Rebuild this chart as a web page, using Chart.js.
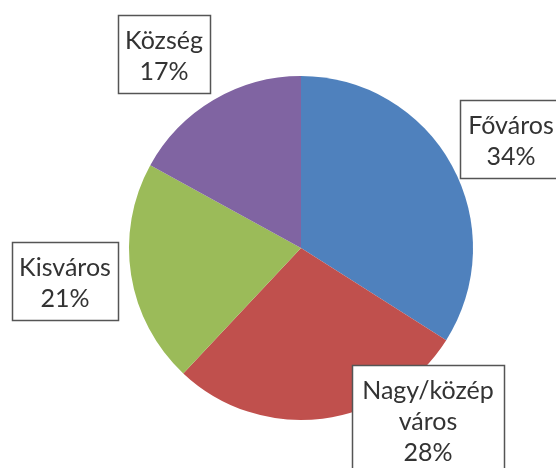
<!DOCTYPE html>
<html>
<head>
<meta charset="utf-8">
<script src="https://cdn.jsdelivr.net/npm/chart.js@4"></script>
<style>
html,body{margin:0;padding:0;background:#fff;}
#wrap{width:556px;height:468px;position:relative;}
</style>
</head>
<body>
<div id="wrap"><canvas id="c" width="556" height="468"></canvas></div>
<script>
const categories = ['Főváros', 'Nagy/közép város', 'Kisváros', 'Község'];
const labelLines = [['Főváros'], ['Nagy/közép', 'város'], ['Kisváros'], ['Község']];
const values = [34, 28, 21, 17];
const colors = ['#4F81BD', '#C0504D', '#9BBB59', '#8064A2'];

// label box centers (layout only)
const boxLayout = [
  {cx: 511, top: 100, w: 102},
  {cx: 428, top: 365, w: 152},
  {cx: 65, top: 242, w: 106},
  {cx: 164, top: 15, w: 92}
];

const labelBoxes = {
  id: 'labelBoxes',
  afterDatasetsDraw(chart) {
    const ctx = chart.ctx;
    const data = chart.data.datasets[0].data;
    const total = data.reduce((a, b) => a + b, 0);
    ctx.save();
    ctx.font = '25px Lato';
    ctx.textAlign = 'center';
    ctx.textBaseline = 'middle';
    const lh = 31;
    chart.getDatasetMeta(0).data.forEach((arc, i) => {
      const lines = labelLines[i].concat([Math.round(data[i] / total * 100) + '%']);
      const L = boxLayout[i];
      const h = lines.length * lh + 16;
      const x0 = Math.round(L.cx - L.w / 2) + 0.5;
      const y0 = L.top + 0.5;
      ctx.fillStyle = '#fff';
      ctx.fillRect(x0, y0, L.w, h);
      ctx.strokeStyle = '#555';
      ctx.lineWidth = 1.5;
      ctx.strokeRect(x0, y0, L.w, h);
      ctx.fillStyle = '#333';
      lines.forEach((t, k) => {
        ctx.fillText(t, L.cx, L.top + 26 + k * lh);
      });
    });
    ctx.restore();
  }
};

new Chart(document.getElementById('c'), {
  type: 'pie',
  data: {
    labels: categories,
    datasets: [{
      data: values,
      backgroundColor: colors,
      borderWidth: 0
    }]
  },
  options: {
    responsive: false,
    animation: false,
    layout: {padding: {left: 129, right: 83, top: 76, bottom: 48}},
    plugins: {legend: {display: false}, tooltip: {enabled: false}}
  },
  plugins: [labelBoxes]
});
</script>
</body>
</html>
